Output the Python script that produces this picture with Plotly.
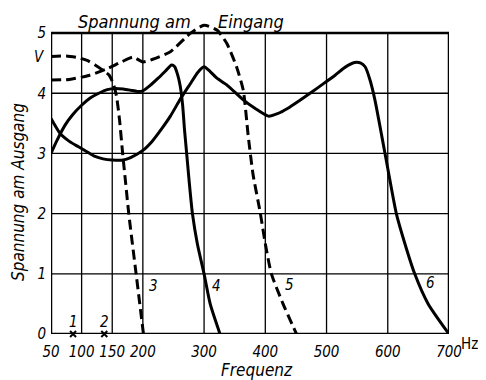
import plotly.graph_objects as go

# ---- data ----
x_ticks = [50, 100, 150, 200, 300, 400, 500, 600, 700]
y_ticks = [0, 1, 2, 3, 4, 5]

# curve 3 (dashed)
x3 = [50, 75, 95, 110, 122, 135, 145, 152, 157, 162, 167, 172, 177, 189, 201]
y3 = [4.61, 4.62, 4.59, 4.54, 4.47, 4.38, 4.3, 4.15, 3.95, 3.55, 3.0, 2.5, 2.0, 1.0, 0.0]

# curve 4 (solid)
x4 = [50, 60, 73, 86, 100, 114, 128, 142, 155, 168, 180, 191, 200, 212, 225, 237, 247, 252, 257, 261, 265, 268, 272, 276, 281, 289, 300, 310, 326]
y4 = [3.0, 3.22, 3.47, 3.65, 3.8, 3.92, 4.0, 4.06, 4.08, 4.07, 4.05, 4.03, 4.04, 4.13, 4.25, 4.37, 4.47, 4.44, 4.3, 4.12, 3.8, 3.4, 2.95, 2.5, 2.0, 1.5, 1.0, 0.5, 0.0]

# curve 5 (dashed)
x5 = [50, 80, 110, 140, 165, 184, 200, 215, 245, 277, 300, 321, 337, 353, 364, 372, 380, 392, 400, 410, 429, 451]
y5 = [4.22, 4.23, 4.29, 4.4, 4.52, 4.6, 4.52, 4.56, 4.69, 4.99, 5.13, 5.05, 4.83, 4.44, 4.05, 3.3, 2.65, 2.0, 1.5, 1.0, 0.5, 0.0]

# curve 6 (solid)
x6 = [50, 65, 80, 95, 110, 122, 135, 150, 168, 180, 200, 215, 230, 245, 261, 277, 290, 300, 310, 321, 337, 364, 383, 405, 420, 437, 456, 476, 495, 514, 530, 546, 556, 563, 571, 579, 590, 600, 614, 628, 644, 666, 700]
y6 = [3.58, 3.33, 3.2, 3.11, 3.02, 2.95, 2.91, 2.89, 2.89, 2.93, 3.05, 3.2, 3.4, 3.62, 3.9, 4.15, 4.35, 4.44, 4.36, 4.25, 4.14, 3.89, 3.75, 3.62, 3.66, 3.75, 3.88, 4.02, 4.16, 4.3, 4.43, 4.51, 4.5, 4.44, 4.22, 3.89, 3.3, 2.75, 2.0, 1.5, 1.0, 0.5, 0.0]

# resonance points 1 and 2 (crosses on the axis)
x_cross = [86, 137]
y_cross = [0, 0]

curve_labels = ["1", "2", "3", "4", "5", "6"]
label_x = [86, 137, 217, 321, 440, 669]
label_y = [0.2, 0.2, 0.79, 0.79, 0.81, 0.84]

FONT = "Liberation Sans Narrow, DejaVu Sans Condensed, Arial Narrow, sans-serif"

fig = go.Figure()
solid = dict(color="black", width=3, shape="spline", smoothing=0.6)
dashed = dict(color="black", width=3, shape="spline", smoothing=0.6, dash="10px,5px")
fig.add_trace(go.Scatter(x=x3, y=y3, mode="lines", line=dashed))
fig.add_trace(go.Scatter(x=x5, y=y5, mode="lines", line=dashed))
fig.add_trace(go.Scatter(x=x4, y=y4, mode="lines", line=solid))
fig.add_trace(go.Scatter(x=x6, y=y6, mode="lines", line=solid))
fig.add_trace(go.Scatter(x=x_cross, y=y_cross, mode="markers", cliponaxis=False,
                         marker=dict(symbol="x-thin", size=6, line=dict(color="black", width=2))))

shapes = []
for xv in x_ticks:
    shapes.append(dict(type="line", xref="x", yref="y", x0=xv, x1=xv, y0=0, y1=y_ticks[-1],
                       line=dict(color="black", width=1.3), layer="below"))
for yv in y_ticks:
    shapes.append(dict(type="line", xref="x", yref="y", x0=x_ticks[0], x1=x_ticks[-1], y0=yv, y1=yv,
                       line=dict(color="black", width=1.3), layer="below"))
shapes.append(dict(type="rect", xref="x", yref="y", x0=x_ticks[0], x1=x_ticks[-1], y0=0, y1=y_ticks[-1],
                   line=dict(color="black", width=2.5), layer="above"))

annotations = []
for t, xv, yv in zip(curve_labels, label_x, label_y):
    annotations.append(dict(x=xv, y=yv, xref="x", yref="y", text=t, showarrow=False,
                            font=dict(family=FONT, size=15, color="black", style="italic")))
annotations += [
    dict(x=187, y=0.981, xref="x", yref="paper", text="Spannung am", showarrow=False,
         xanchor="center", yanchor="middle",
         font=dict(family=FONT, size=18, color="black", style="italic")),
    dict(x=376, y=0.981, xref="x", yref="paper", text="Eingang", showarrow=False,
         xanchor="center", yanchor="middle",
         font=dict(family=FONT, size=18, color="black", style="italic")),
    dict(x=50, y=4.6, xref="x", yref="y", text="V", showarrow=False, xanchor="right", xshift=-4,
         font=dict(family=FONT, size=15, color="black", style="italic")),
    dict(x=700, y=0, xref="x", yref="y", text="Hz", showarrow=False, xanchor="left", xshift=10,
         yanchor="middle", yshift=-10, font=dict(family=FONT, size=15, color="black")),
    dict(x=-0.083, y=0.445, xref="paper", yref="paper", text="Spannung am Ausgang", showarrow=False,
         xanchor="center", yanchor="middle", textangle=-90,
         font=dict(family=FONT, size=17, color="black", style="italic")),
    dict(x=0.518, y=-0.113, xref="paper", yref="paper", text="Frequenz", showarrow=False,
         xanchor="center", yanchor="middle",
         font=dict(family=FONT, size=17, color="black", style="italic")),
]

fig.update_layout(
    width=486, height=380,
    margin=dict(l=43, r=45, t=7, b=54),
    paper_bgcolor="white", plot_bgcolor="white",
    showlegend=False,
    shapes=shapes, annotations=annotations,
    xaxis=dict(range=[50, 700], tickvals=x_ticks, showgrid=False, zeroline=False, showline=False,
               ticks="", ticklabelstandoff=7,
               tickfont=dict(family=FONT, size=15, color="black", style="italic")),
    yaxis=dict(range=[0, 5.3], tickvals=y_ticks, showgrid=False, zeroline=False, showline=False,
               ticks="", ticklabelstandoff=4,
               tickfont=dict(family=FONT, size=15, color="black", style="italic")),
)

fig.write_html("out.html")
